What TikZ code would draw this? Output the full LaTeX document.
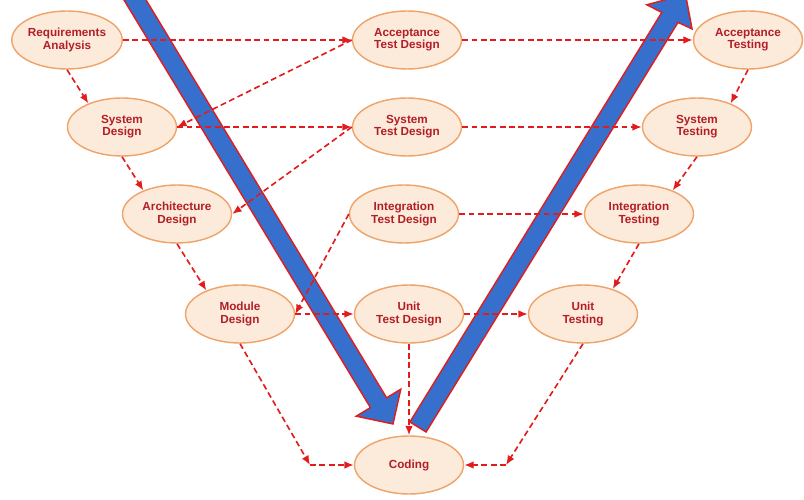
\documentclass[tikz,border=0pt]{standalone}
\usepackage{fontspec}
\setmainfont{Liberation Sans}
\usepackage{tikz}
\usetikzlibrary{shapes.geometric,arrows.meta}
\definecolor{vpeach}{RGB}{252,234,219}
\definecolor{vorange}{RGB}{238,163,104}
\definecolor{vtext}{RGB}{178,30,38}
\definecolor{vred}{RGB}{226,28,28}
\definecolor{vblue}{RGB}{54,112,204}

\begin{document}
\begin{tikzpicture}[x=0.3mm,y=-0.3mm,
  phase/.style={ellipse,draw=vorange,fill=vpeach,line width=1.2pt,minimum width=32.7mm,minimum height=17.4mm,inner sep=0pt,align=center,font=\fontsize{10}{10.5}\selectfont\bfseries,text=vtext},
  flow/.style={-{Latex[length=8pt,width=6.5pt]},dash pattern=on 5pt off 3pt,line width=1.4pt,color=vred},
  bigarrow/.style={fill=vblue,draw=vred,line width=1.2pt}
]
\clip (0,0) rectangle (804,500);

% the two big arrows of the V
\draw[bigarrow] (108.8,-25.1) -- (370.4,407.6) -- (356.2,416.2) -- (393,424) -- (400.8,389.2) -- (386.6,397.8) -- (125.0,-34.9) -- cycle;
\draw[bigarrow] (409.9,422.0) -- (661.8,12.4) -- (646.7,4.8) -- (685.5,-5.7) -- (692.1,29.0) -- (678.0,22.4) -- (426.1,432.0) -- cycle;

\node[phase] (req) at (67,40) {Requirements\\Analysis};
\node[phase] (atd) at (407,40) {Acceptance\\Test Design};
\node[phase] (acc) at (748,40) {Acceptance\\Testing};
\node[phase] (sysd) at (122,127) {System\\Design};
\node[phase] (std) at (407,127) {System\\Test Design};
\node[phase] (syst) at (697,127) {System\\Testing};
\node[phase] (arch) at (177,214) {Architecture\\Design};
\node[phase] (itd) at (404,214) {Integration\\Test Design};
\node[phase] (intt) at (639,214) {Integration\\Testing};
\node[phase] (mod) at (240,314) {Module\\Design};
\node[phase] (utd) at (409,314) {Unit\\Test Design};
\node[phase] (unitt) at (583,314) {Unit\\Testing};
\node[phase] (cod) at (409,465) {Coding};

\coordinate (cl) at (310,465);
\coordinate (cr) at (506,465);

\draw[flow] (req) -- (atd);
\draw[flow] (atd) -- (acc);
\draw[flow] (sysd) -- (std);
\draw[flow] (std) -- (syst);
\draw[flow] (itd) -- (intt);
\draw[flow] (mod) -- (utd);
\draw[flow] (utd) -- (unitt);

\draw[flow] (req.south) -- (sysd.145);
\draw[flow] (sysd.south) -- (arch.145);
\draw[flow] (arch.south) -- (mod.145);
\draw[flow] (acc.south) -- (syst.35);
\draw[flow] (syst.south) -- (intt.35);
\draw[flow] (intt.south) -- (unitt.40);

\draw[flow] (atd.west) -- (sysd.east);
\draw[flow] (std.west) -- (arch.east);
\draw[flow] (itd.west) -- (mod.east);

\draw[flow] (utd.south) -- (cod.north);
\draw[flow] (mod.south) -- (cl);
\draw[flow] (cl) -- (cod.west);
\draw[flow] (unitt.south) -- (cr);
\draw[flow] (cr) -- (cod.east);
\end{tikzpicture}
\end{document}
